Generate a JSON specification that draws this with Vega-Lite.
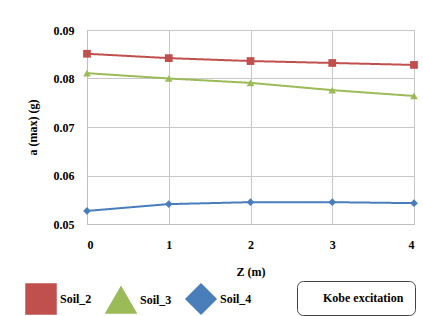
{
  "$schema": "https://vega.github.io/schema/vega-lite/v6.json",
  "width": 327,
  "height": 194,
  "autosize": "none",
  "padding": {"left": 87, "top": 30, "right": 9, "bottom": 92},
  "background": "#ffffff",
  "config": {
    "view": {"stroke": "#c8c8c8", "strokeWidth": 1},
    "axis": {
      "labelFont": "Liberation Serif", "labelFontWeight": "bold", "labelFontSize": 12, "labelColor": "#000",
      "titleFont": "Liberation Serif", "titleFontWeight": "bold", "titleFontSize": 12, "titleColor": "#000",
      "gridColor": "#c8c8c8", "gridOpacity": 1, "domainColor": "#c0c0c0", "ticks": false
    },
    "legend": {
      "labelFont": "Liberation Serif", "labelFontWeight": "bold", "labelFontSize": 12, "labelColor": "#000"
    }
  },
  "data": {
    "values": [
      {"z": 0, "a": 0.0851, "series": "Soil_2", "exc": "Kobe excitation"},
      {"z": 1, "a": 0.0842, "series": "Soil_2", "exc": "Kobe excitation"},
      {"z": 2, "a": 0.0836, "series": "Soil_2", "exc": "Kobe excitation"},
      {"z": 3, "a": 0.0832, "series": "Soil_2", "exc": "Kobe excitation"},
      {"z": 4, "a": 0.0828, "series": "Soil_2", "exc": "Kobe excitation"},
      {"z": 0, "a": 0.0811, "series": "Soil_3", "exc": "Kobe excitation"},
      {"z": 1, "a": 0.0800, "series": "Soil_3", "exc": "Kobe excitation"},
      {"z": 2, "a": 0.0791, "series": "Soil_3", "exc": "Kobe excitation"},
      {"z": 3, "a": 0.0776, "series": "Soil_3", "exc": "Kobe excitation"},
      {"z": 4, "a": 0.0764, "series": "Soil_3", "exc": "Kobe excitation"},
      {"z": 0, "a": 0.0527, "series": "Soil_4", "exc": "Kobe excitation"},
      {"z": 1, "a": 0.0541, "series": "Soil_4", "exc": "Kobe excitation"},
      {"z": 2, "a": 0.0545, "series": "Soil_4", "exc": "Kobe excitation"},
      {"z": 3, "a": 0.0545, "series": "Soil_4", "exc": "Kobe excitation"},
      {"z": 4, "a": 0.0543, "series": "Soil_4", "exc": "Kobe excitation"}
    ]
  },
  "encoding": {
    "x": {
      "field": "z", "type": "quantitative",
      "scale": {"domain": [0, 4], "nice": false},
      "axis": {"values": [0, 1, 2, 3, 4], "title": "Z  (m)", "labelPadding": 15, "titlePadding": 16, "format": "d"}
    },
    "y": {
      "field": "a", "type": "quantitative",
      "scale": {"domain": [0.05, 0.09], "nice": false, "zero": false},
      "axis": {"values": [0.05, 0.06, 0.07, 0.08, 0.09], "format": ".2f", "title": "a  (max)  (g)", "labelPadding": 13, "titleX": -48}
    },
    "color": {
      "field": "series", "type": "nominal",
      "scale": {"domain": ["Soil_2", "Soil_3", "Soil_4"], "range": ["#C0504D", "#9BBB59", "#4A7EBB"]},
      "legend": {
        "title": null, "orient": "none", "direction": "horizontal", "legendX": -62, "legendY": 253,
        "padding": 0, "columnPadding": 11, "labelOffset": 3, "symbolSize": 900, "symbolOpacity": 1,
        "encode": {
          "symbols": {
            "update": {
              "shape": {"value": {"expr": "datum.value === 'Soil_2' ? 'M-1,-0.067H-0.27V-0.27H0.27V-0.067H1V0.067H0.27V0.27H-0.27V0.067H-1Z' : datum.value === 'Soil_3' ? 'M-1,-0.067H1V0.067H-1Z M0,-0.3L0.3,0.22H-0.3Z' : 'M-1,-0.067H1V0.067H-1Z M0,-0.23L0.23,0L0,0.23L-0.23,0Z'"}}
            }
          }
        }
      }
    }
  },
  "layer": [
    {
      "mark": {"type": "line", "strokeWidth": 2},
      "encoding": {
        "strokeDash": {
          "field": "exc", "type": "nominal",
          "scale": {"range": [[1, 0]]},
          "legend": {
            "title": null, "orient": "none", "legendX": 210, "legendY": 251,
            "padding": 11, "strokeColor": "#404040", "cornerRadius": 6,
            "symbolType": "stroke", "symbolSize": 100, "symbolOpacity": 0, "symbolStrokeWidth": 0, "labelOffset": 3
          }
        }
      }
    },
    {
      "mark": {"type": "point", "filled": true, "opacity": 1, "size": 60},
      "encoding": {
        "shape": {
          "field": "series", "type": "nominal",
          "scale": {"domain": ["Soil_2", "Soil_3", "Soil_4"], "range": ["square", "triangle-up", "diamond"]},
          "legend": null
        }
      }
    }
  ]
}
